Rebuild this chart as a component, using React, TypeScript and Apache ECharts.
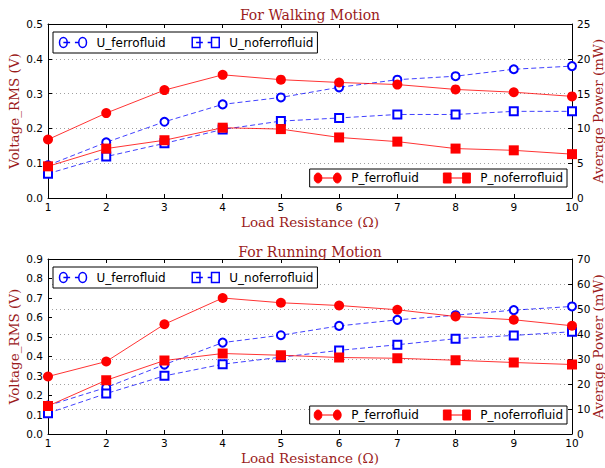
import React, { useEffect, useRef } from "react";
import * as echarts from "echarts";

// Load resistance values (Ω) shared by both panels
const resistance = [1, 2, 3, 4, 5, 6, 7, 8, 9, 10];

// Walking motion: RMS voltage (V) and average power (mW)
const walkUFerro = [0.094, 0.16, 0.219, 0.269, 0.289, 0.318, 0.34, 0.35, 0.37, 0.379];
const walkUNoFerro = [0.07, 0.119, 0.157, 0.197, 0.221, 0.23, 0.24, 0.24, 0.249, 0.249];
const walkPFerro = [8.4, 12.2, 15.5, 17.7, 17.0, 16.6, 16.3, 15.6, 15.2, 14.6];
const walkPNoFerro = [4.55, 7.1, 8.3, 10.1, 9.9, 8.7, 8.1, 7.1, 6.85, 6.3];

// Running motion: RMS voltage (V) and average power (mW)
const runUFerro = [0.146, 0.239, 0.357, 0.47, 0.508, 0.556, 0.587, 0.611, 0.637, 0.656];
const runUNoFerro = [0.107, 0.208, 0.299, 0.359, 0.395, 0.43, 0.459, 0.49, 0.507, 0.526];
const runPFerro = [23.0, 29.0, 43.9, 54.4, 52.5, 51.4, 49.7, 47.0, 45.7, 43.3];
const runPNoFerro = [11.2, 21.5, 29.4, 32.2, 31.5, 30.6, 30.3, 29.5, 28.6, 27.8];

const panelTitles = ["For Walking Motion", "For Running Motion"];
const xName = "Load Resistance (Ω)";
const leftName = "Voltage_RMS (V)";
const rightName = "Average Power (mW)";

const DARK_RED = "#9b1b1b";
const BLUE = "#0000ff";
const RED = "#ff0000";
const SERIF = "DejaVu Serif";
const SANS = "DejaVu Sans";

const pairs = (ys: number[]) => resistance.map((x, i) => [x, ys[i]]);

// Legend glyphs: a marker at each end joined by the series line
const circleAt = (cx: number) =>
  `M${cx - 4} 5 A4 4 0 1 1 ${cx + 4} 5 A4 4 0 1 1 ${cx - 4} 5 Z`;
const squareAt = (cx: number) =>
  `M${cx - 4} 1 L${cx + 4} 1 L${cx + 4} 9 L${cx - 4} 9 Z`;
const dashedLink = "M5 5 L12 5 M17 5 L21 5";
const solidLink = "M5 5 L25 5";
const iconUFerro = "path://" + circleAt(5) + " " + circleAt(25) + " " + dashedLink;
const iconUNoFerro = "path://" + squareAt(5) + " " + squareAt(25) + " " + dashedLink;
const iconPFerro = "path://" + circleAt(5) + " " + circleAt(25) + " " + solidLink;
const iconPNoFerro = "path://" + squareAt(5) + " " + squareAt(25) + " " + solidLink;

const grids = [
  { left: 48, top: 24, width: 524, height: 174, containLabel: false, outerBoundsMode: "none" },
  { left: 48, top: 259, width: 524, height: 175, containLabel: false, outerBoundsMode: "none" },
];

function xAxes(gridIndex: number) {
  const common = {
    gridIndex,
    type: "value",
    min: 1,
    max: 10,
    interval: 1,
    axisLine: { show: true, onZero: false, lineStyle: { color: "#000", width: 1 } },
    axisTick: { show: true, inside: true, length: 4, lineStyle: { color: "#000" } },
    splitLine: { show: false },
  };
  return [
    {
      ...common,
      position: "bottom",
      axisLabel: { color: "#000", fontFamily: SANS, fontSize: 10.5, margin: 3 },
      name: xName,
      nameLocation: "middle",
      nameGap: 17,
      nameTextStyle: { color: DARK_RED, fontFamily: SERIF, fontSize: 13.5 },
    },
    { ...common, position: "top", axisLabel: { show: false } },
  ];
}

function yAxes(gridIndex: number, leftMax: number, rightMax: number, rightStep: number, gridOnRight: boolean) {
  const dotted = { show: true, lineStyle: { color: "#a0a0a0", type: [1, 3], width: 1 } };
  const line = { show: true, lineStyle: { color: "#000", width: 1 } };
  const tick = { show: true, inside: true, length: 4, lineStyle: { color: "#000" } };
  return [
    {
      gridIndex,
      type: "value",
      position: "left",
      min: 0,
      max: leftMax,
      interval: 0.1,
      axisLine: line,
      axisTick: tick,
      axisLabel: {
        color: "#000",
        fontFamily: SANS,
        fontSize: 10.5,
        margin: 5,
        formatter: (v: number) => v.toFixed(1),
      },
      splitLine: gridOnRight ? { show: false } : dotted,
      name: leftName,
      nameLocation: "middle",
      nameRotate: 90,
      nameGap: 27,
      nameMoveOverlap: false,
      nameTextStyle: { color: DARK_RED, fontFamily: SERIF, fontSize: 13.5 },
    },
    {
      gridIndex,
      type: "value",
      position: "right",
      min: 0,
      max: rightMax,
      interval: rightStep,
      axisLine: line,
      axisTick: tick,
      axisLabel: { color: "#000", fontFamily: SANS, fontSize: 10.5, margin: 5 },
      splitLine: gridOnRight ? dotted : { show: false },
      name: rightName,
      nameLocation: "middle",
      nameRotate: 90,
      nameGap: 19,
      nameMoveOverlap: false,
      nameTextStyle: { color: DARK_RED, fontFamily: SERIF, fontSize: 13.5 },
    },
  ];
}

function panelSeries(
  panel: number,
  uFerro: number[],
  uNoFerro: number[],
  pFerro: number[],
  pNoFerro: number[]
) {
  const xAxisIndex = panel * 2;
  const leftY = panel * 2;
  const rightY = panel * 2 + 1;
  const dash = { color: BLUE, width: 1, type: [5, 3], opacity: 0.75 };
  const solid = { color: RED, width: 1, opacity: 0.8 };
  return [
    {
      name: "U_ferrofluid",
      type: "line",
      xAxisIndex,
      yAxisIndex: leftY,
      data: pairs(uFerro),
      symbol: "emptyCircle",
      symbolSize: 8,
      lineStyle: dash,
      itemStyle: { color: BLUE, borderWidth: 1.5 },
      z: 2,
    },
    {
      name: "U_noferrofluid",
      type: "line",
      xAxisIndex,
      yAxisIndex: leftY,
      data: pairs(uNoFerro),
      symbol: "emptyRect",
      symbolSize: 8,
      lineStyle: dash,
      itemStyle: { color: BLUE, borderWidth: 1.5 },
      z: 2,
    },
    {
      name: "P_ferrofluid",
      type: "line",
      xAxisIndex,
      yAxisIndex: rightY,
      data: pairs(pFerro),
      symbol: "circle",
      symbolSize: 10,
      lineStyle: solid,
      itemStyle: { color: RED },
      z: 3,
    },
    {
      name: "P_noferrofluid",
      type: "line",
      xAxisIndex,
      yAxisIndex: rightY,
      data: pairs(pNoFerro),
      symbol: "rect",
      symbolSize: 10,
      lineStyle: solid,
      itemStyle: { color: RED },
      z: 3,
    },
  ];
}

const hollow = { color: "none", borderColor: BLUE, borderWidth: 1.5 };
const filled = { color: RED, borderColor: RED, borderWidth: 1 };

function legendBox(pos: Record<string, number>, items: { name: string; icon: string; itemStyle: object }[]) {
  return {
    ...pos,
    orient: "horizontal",
    padding: [3, 4],
    itemGap: 24,
    itemWidth: 27,
    itemHeight: 10,
    symbolKeepAspect: false,
    selectedMode: false,
    borderColor: "#000",
    borderWidth: 1,
    borderRadius: 0,
    backgroundColor: "#fff",
    textStyle: { color: "#000", fontFamily: SANS, fontSize: 12, padding: [0, 0, 0, 5] },
    data: items,
  };
}

const uItems = [
  { name: "U_ferrofluid", icon: iconUFerro, itemStyle: hollow },
  { name: "U_noferrofluid", icon: iconUNoFerro, itemStyle: hollow },
];
const pItems = [
  { name: "P_ferrofluid", icon: iconPFerro, itemStyle: filled },
  { name: "P_noferrofluid", icon: iconPNoFerro, itemStyle: filled },
];

export default function App() {
  const ref = useRef<HTMLDivElement>(null);

  useEffect(() => {
    if (!ref.current) return;
    const chart = echarts.init(ref.current, undefined, { renderer: "svg" });
    chart.setOption({
      animation: false,
      backgroundColor: "#fff",
      title: panelTitles.map((text, i) => ({
        text,
        left: 310,
        top: i === 0 ? 8 : 245,
        textAlign: "center",
        padding: 0,
        textStyle: { color: DARK_RED, fontFamily: SERIF, fontSize: 14, fontWeight: "normal" },
      })),
      grid: grids,
      xAxis: [...xAxes(0), ...xAxes(1)],
      yAxis: [...yAxes(0, 0.5, 25, 5, false), ...yAxes(1, 0.9, 70, 10, true)],
      legend: [
        legendBox({ left: 53, top: 32 }, uItems),
        legendBox({ right: 38, top: 169 }, pItems),
        legendBox({ left: 53, top: 267 }, uItems),
        legendBox({ right: 38, top: 406 }, pItems),
      ],
      series: [
        ...panelSeries(0, walkUFerro, walkUNoFerro, walkPFerro, walkPNoFerro),
        ...panelSeries(1, runUFerro, runUNoFerro, runPFerro, runPNoFerro),
      ],
    });
    return () => chart.dispose();
  }, []);

  return (
    <div
      ref={ref}
      style={{ position: "fixed", left: 0, top: 0, width: 605, height: 468 }}
    />
  );
}
